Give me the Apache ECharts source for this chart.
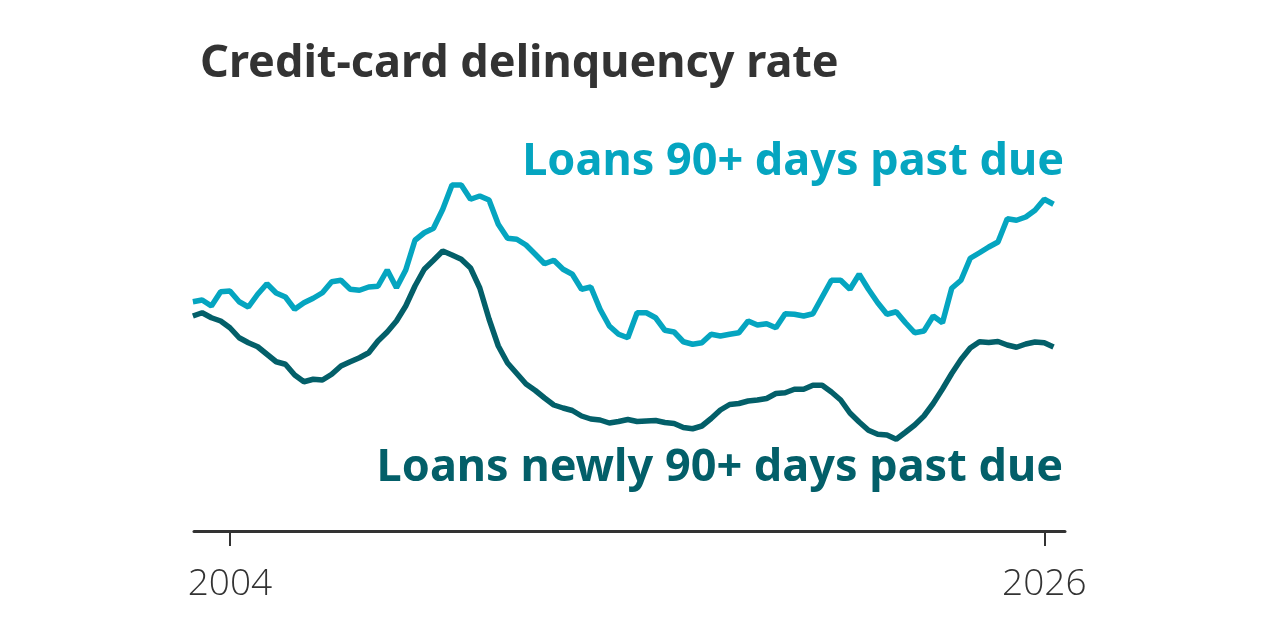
<!DOCTYPE html>
<html>
<head>
<meta charset="utf-8">
<title>Credit-card delinquency rate</title>
<script src="https://cdn.jsdelivr.net/npm/echarts@6/dist/echarts.min.js"></script>
<style>
  html, body { margin: 0; padding: 0; background: #fff; }
  #chart { width: 1280px; height: 640px; }
</style>
</head>
<body>
<div id="chart"></div>
<script>
// quarterly, 2003 Q1 onward
const firstYear = 2003;
const tickYears = [2004, 2026];

// share of balances 90+ days past due, %
const pastDue90 = [
  9.17, 9.24, 9.00, 9.57, 9.60, 9.17, 8.96, 9.47, 9.89, 9.52,
  9.36, 8.87, 9.13, 9.31, 9.53, 9.97, 10.03, 9.67, 9.63, 9.76,
  9.79, 10.44, 9.73, 10.44, 11.63, 11.93, 12.11, 12.87, 13.84, 13.84,
  13.27, 13.40, 13.24, 12.27, 11.71, 11.67, 11.44, 11.07, 10.69, 10.83,
  10.47, 10.27, 9.67, 9.76, 8.87, 8.20, 7.87, 7.73, 8.73, 8.73,
  8.53, 8.03, 7.96, 7.57, 7.47, 7.53, 7.87, 7.80, 7.87, 7.93,
  8.40, 8.24, 8.29, 8.13, 8.69, 8.67, 8.60, 8.69, 9.36, 10.03,
  10.03, 9.67, 10.27, 9.67, 9.13, 8.67, 8.77, 8.33, 7.93, 8.00,
  8.60, 8.33, 9.71, 10.03, 10.91, 11.13, 11.36, 11.56, 12.49, 12.43,
  12.56, 12.83, 13.27, 13.07
];

// share of balances newly 90+ days past due, %
const newly90 = [
  8.60, 8.73, 8.53, 8.40, 8.13, 7.73, 7.53, 7.37, 7.07, 6.77,
  6.67, 6.24, 5.97, 6.07, 6.04, 6.27, 6.60, 6.77, 6.93, 7.13,
  7.60, 7.96, 8.40, 9.00, 9.80, 10.47, 10.83, 11.20, 11.04, 10.87,
  10.52, 9.72, 8.48, 7.40, 6.72, 6.30, 5.88, 5.62, 5.32, 5.04,
  4.92, 4.82, 4.60, 4.48, 4.44, 4.32, 4.38, 4.46, 4.38, 4.40,
  4.42, 4.34, 4.30, 4.14, 4.09, 4.20, 4.50, 4.84, 5.06, 5.10,
  5.20, 5.24, 5.30, 5.50, 5.53, 5.67, 5.67, 5.83, 5.83, 5.56,
  5.24, 4.72, 4.36, 4.03, 3.87, 3.84, 3.67, 3.95, 4.24, 4.60,
  5.10, 5.68, 6.30, 6.86, 7.32, 7.57, 7.54, 7.58, 7.44, 7.35,
  7.48, 7.56, 7.53, 7.36
];

const seriesNames = ['Loans 90+ days past due', 'Loans newly 90+ days past due'];
const colors = ['#05a5c0', '#035f69'];

// quarter positions as decimal years
const quarters = pastDue90.map((_, i) => firstYear + i / 4);
const toPairs = vals => vals.map((v, i) => [quarters[i], v]);

const chart = echarts.init(document.getElementById('chart'));

const option = {
  backgroundColor: '#fff',
  animation: false,
  grid: { left: 194, right: 215, top: 131, bottom: 109, containLabel: false },
  xAxis: {
    type: 'value',
    min: 2003.03,
    max: 2026.56,
    splitLine: { show: false },
    axisLine: { show: true, lineStyle: { color: '#333', width: 3 } },
    axisTick: {
      show: true,
      length: 15,
      lineStyle: { color: '#333', width: 2 },
      customValues: tickYears
    },
    axisLabel: {
      customValues: tickYears,
      color: '#333',
      fontSize: 37,
      fontFamily: 'Open Sans',
      fontWeight: 300,
      margin: 35,
      formatter: v => String(v)
    }
  },
  yAxis: {
    type: 'value',
    min: 0,
    max: 16,
    show: false,
    splitLine: { show: false }
  },
  series: [
    {
      name: seriesNames[0],
      type: 'line',
      data: toPairs(pastDue90),
      showSymbol: false,
      lineStyle: { color: colors[0], width: 5.5 }
    },
    {
      name: seriesNames[1],
      type: 'line',
      data: toPairs(newly90),
      showSymbol: false,
      lineStyle: { color: colors[1], width: 5.5 }
    }
  ],
  graphic: [
    {
      type: 'text',
      left: 200,
      top: 42,
      style: {
        text: 'Credit-card delinquency rate',
        fill: '#333',
        font: 'bold 45px "Noto Sans"'
      }
    },
    {
      type: 'text',
      right: 216,
      top: 140,
      style: {
        text: seriesNames[0],
        fill: colors[0],
        font: 'bold 45px "Noto Sans"'
      }
    },
    {
      type: 'text',
      right: 217,
      top: 446,
      style: {
        text: seriesNames[1],
        fill: colors[1],
        font: 'bold 45px "Noto Sans"'
      }
    }
  ]
};

chart.setOption(option);
</script>
</body>
</html>
